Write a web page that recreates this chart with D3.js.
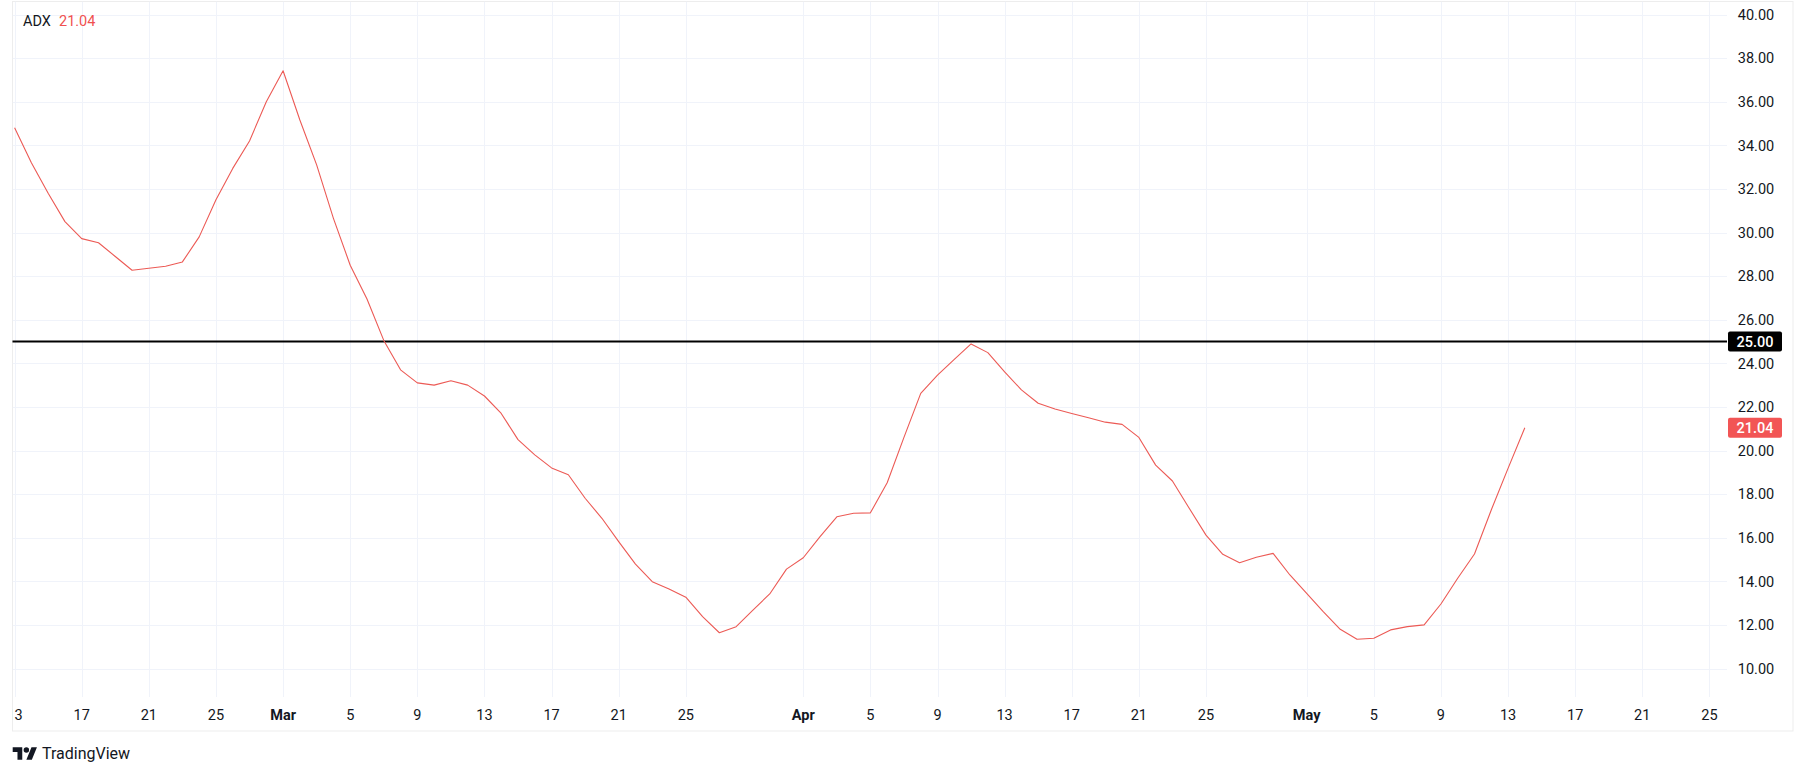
<!DOCTYPE html>
<html>
<head>
<meta charset="utf-8">
<script src="https://cdn.jsdelivr.net/npm/d3@7/dist/d3.min.js"></script>
<style>
  html, body { margin: 0; padding: 0; background: #ffffff; }
  svg { display: block; }
  text { font-family: Roboto, "Liberation Sans", sans-serif; }
</style>
</head>
<body>
<svg id="chart" width="1805" height="776"></svg>
<script>
// ---- data ----
const startDate = "2025-02-13";
const adxValues = [
  34.8, 33.2, 31.8, 30.5, 29.72, 29.53, 28.9, 28.27, 28.36, 28.45, 28.65, 29.8, 31.5, 32.94, 34.2, 36.0,
  37.42, 35.16, 33.1, 30.65, 28.5, 26.95, 25.05, 23.7, 23.1, 23.0, 23.2, 23.0, 22.5, 21.7, 20.5, 19.8,
  19.2, 18.89, 17.81, 16.89, 15.82, 14.79, 13.98, 13.65, 13.27, 12.38, 11.64, 11.92, 12.68, 13.42, 14.56,
  15.08, 16.05, 16.96, 17.12, 17.14, 18.52, 20.6, 22.62, 23.46, 24.18, 24.89, 24.49, 23.61, 22.78, 22.17,
  21.9, 21.7, 21.5, 21.3, 21.2, 20.6, 19.33, 18.6, 17.35, 16.12, 15.24, 14.85, 15.1, 15.28, 14.29,
  13.45, 12.6, 11.8, 11.34, 11.39, 11.77, 11.92, 12.0, 12.96, 14.14, 15.25, 17.27, 19.18, 21.04
];
const lastValue = 21.04;
const levelValue = 25;
const yTicks = [10, 12, 14, 16, 18, 20, 22, 24, 26, 28, 30, 32, 34, 36, 38, 40];
const xTickDates = [
  "2025-02-13", "2025-02-17", "2025-02-21", "2025-02-25", "2025-03-01", "2025-03-05", "2025-03-09",
  "2025-03-13", "2025-03-17", "2025-03-21", "2025-03-25", "2025-04-01", "2025-04-05", "2025-04-09",
  "2025-04-13", "2025-04-17", "2025-04-21", "2025-04-25", "2025-05-01", "2025-05-05", "2025-05-09",
  "2025-05-13", "2025-05-17", "2025-05-21", "2025-05-25"
];
const monthNames = ["Jan","Feb","Mar","Apr","May","Jun","Jul","Aug","Sep","Oct","Nov","Dec"];
const indicatorName = "ADX";
const brandName = "TradingView";

// ---- layout ----
const W = 1805, H = 776;
const panel = { left: 12.5, top: 1.5, right: 1793, bottom: 731 };
const plot = { left: 12.5, top: 1.5, right: 1727, bottom: 697 };
const lineColor = "#EC5A55";
const textColor = "#131722";
const gridColor = "#F0F3FA";

const parse = d3.utcParse("%Y-%m-%d");
const t0 = parse(startDate);
const dates = adxValues.map((v, i) => d3.utcDay.offset(t0, i));
const data = adxValues.map((v, i) => ({ date: dates[i], value: v }));
const ticks = xTickDates.map(parse);

const x = d3.scaleUtc()
  .domain([parse("2025-02-13"), parse("2025-05-25")])
  .range([14.6, 1709.4]);
const y = d3.scaleLinear().domain([10, 40]).range([668.5, 14.5]);

const svg = d3.select("#chart");
svg.append("rect").attr("width", W).attr("height", H).attr("fill", "#ffffff");

const defs = svg.append("defs");
defs.append("clipPath").attr("id", "plotClip").append("rect")
  .attr("x", plot.left).attr("y", plot.top)
  .attr("width", plot.right - plot.left).attr("height", plot.bottom - plot.top);
defs.append("clipPath").attr("id", "xClip").append("rect")
  .attr("x", plot.left).attr("y", plot.bottom)
  .attr("width", plot.right - plot.left).attr("height", panel.bottom - plot.bottom);

// panel frame
svg.append("rect")
  .attr("x", panel.left).attr("y", panel.top)
  .attr("width", panel.right - panel.left).attr("height", panel.bottom - panel.top)
  .attr("fill", "#ffffff").attr("stroke", "#EDEDED").attr("stroke-width", 1);

// grid
const grid = svg.append("g").attr("clip-path", "url(#plotClip)");
grid.selectAll("line.h").data(yTicks).join("line")
  .attr("x1", plot.left).attr("x2", plot.right)
  .attr("y1", d => Math.round(y(d)) + 0.5).attr("y2", d => Math.round(y(d)) + 0.5)
  .attr("stroke", gridColor).attr("stroke-width", 1);
grid.selectAll("line.v").data(ticks).join("line")
  .attr("y1", plot.top).attr("y2", plot.bottom)
  .attr("x1", d => Math.round(x(d)) + 0.5).attr("x2", d => Math.round(x(d)) + 0.5)
  .attr("stroke", gridColor).attr("stroke-width", 1);

// level line at 25
svg.append("line")
  .attr("x1", plot.left).attr("x2", plot.right)
  .attr("y1", y(levelValue)).attr("y2", y(levelValue))
  .attr("stroke", "#000000").attr("stroke-width", 2);

// ADX line
const line = d3.line().x(d => x(d.date)).y(d => y(d.value));
svg.append("path").datum(data)
  .attr("clip-path", "url(#plotClip)")
  .attr("d", line)
  .attr("fill", "none").attr("stroke", lineColor).attr("stroke-width", 1.1)
  .attr("stroke-linejoin", "round");

// y axis labels
const yAxisG = svg.append("g");
yAxisG.selectAll("text").data(yTicks).join("text")
  .attr("x", 1756).attr("y", d => y(d))
  .attr("dy", "0.36em")
  .attr("text-anchor", "middle")
  .attr("font-size", 14.5)
  .attr("fill", textColor)
  .text(d => d3.format(".2f")(d));

// price label boxes
function priceBox(v, fill) {
  const g = svg.append("g");
  const cy = y(v);
  g.append("rect").attr("x", 1728).attr("y", cy - 10).attr("width", 54).attr("height", 20)
    .attr("rx", 2).attr("fill", fill);
  g.append("text").attr("x", 1755).attr("y", cy).attr("dy", "0.36em")
    .attr("text-anchor", "middle").attr("font-size", 14.5).attr("font-weight", 500)
    .attr("fill", "#ffffff").text(d3.format(".2f")(v));
}
priceBox(levelValue, "#000000");
priceBox(lastValue, "#F25555");

// x axis labels
const xAxisG = svg.append("g").attr("clip-path", "url(#xClip)");
xAxisG.selectAll("text").data(ticks).join("text")
  .attr("x", d => x(d)).attr("y", 715)
  .attr("dy", "0.36em")
  .attr("text-anchor", "middle")
  .attr("font-size", 14.5)
  .attr("font-weight", d => d.getUTCDate() === 1 ? 700 : 400)
  .attr("fill", textColor)
  .text(d => d.getUTCDate() === 1 ? monthNames[d.getUTCMonth()] : String(d.getUTCDate()));

// legend
const legend = svg.append("g");
legend.append("text").attr("x", 23).attr("y", 21).attr("dy", "0.36em")
  .attr("font-size", 14.5).attr("fill", textColor).text(indicatorName);
legend.append("text").attr("x", 59).attr("y", 21).attr("dy", "0.36em")
  .attr("font-size", 14.5).attr("fill", "#F05050").text(d3.format(".2f")(lastValue));

// TradingView logo
const logo = svg.append("g").attr("transform", "translate(12.7,744.6) scale(0.683)");
logo.append("path").attr("d", "M14 22H7V11H0V4h14v18zM28 22h-8l7.5-18h8L28 22z").attr("fill", textColor);
logo.append("circle").attr("cx", 20).attr("cy", 8).attr("r", 4).attr("fill", textColor);
svg.append("text").attr("x", 42).attr("y", 753.5).attr("dy", "0.36em")
  .attr("font-size", 16).attr("fill", textColor).text(brandName);
</script>
</body>
</html>
